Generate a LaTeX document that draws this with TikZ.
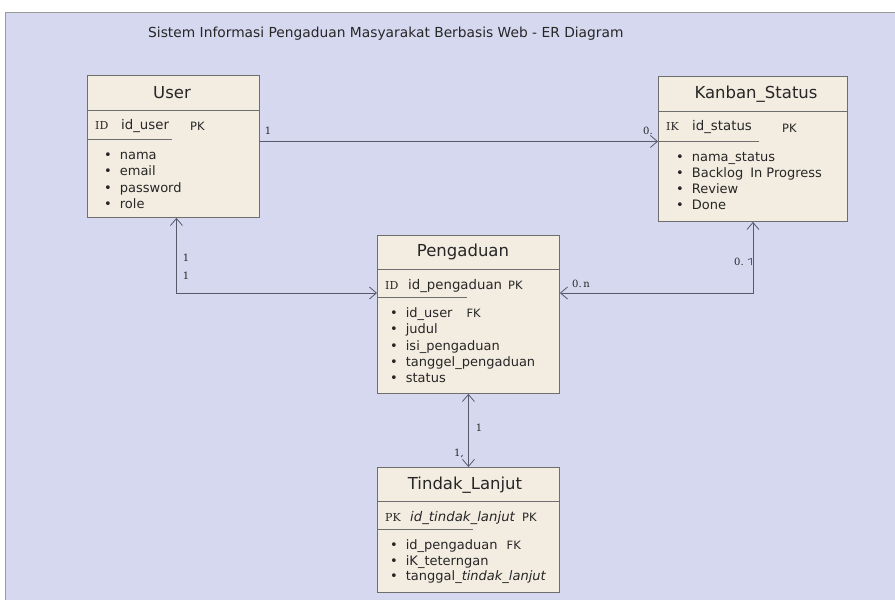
\documentclass[tikz,border=0pt]{standalone}
\usepackage{fontspec}
\setmainfont{DejaVu Sans}
\newfontfamily\tagfont{DejaVu Serif}
\usetikzlibrary{positioning, arrows.meta, calc}

\definecolor{canvasbg}{HTML}{D6D8F0}
\definecolor{entityfill}{HTML}{F3EDE1}
\definecolor{entityline}{HTML}{6E6E6E}
\definecolor{relline}{HTML}{55596A}
\definecolor{textcol}{HTML}{262626}

\begin{document}
\begin{tikzpicture}[
    x=1pt, y=-1pt,
    >={Straight Barb[length=7pt,width=12pt]},
    entity/.style={rectangle, draw=entityline, fill=entityfill, line width=0.9pt, anchor=north west, inner sep=0pt},
    etitle/.style={font=\fontsize{16.5}{19}\selectfont, text=textcol},
    keyname/.style={anchor=base west, inner sep=0pt, font=\fontsize{13.3}{16}\selectfont, text=textcol},
    keytag/.style={anchor=base west, inner sep=0pt, font=\tagfont\fontsize{11}{13}\selectfont, text=textcol},
    pk/.style={anchor=base west, inner sep=0pt, font=\fontsize{11.5}{14}\selectfont, text=textcol},
    item/.style={anchor=base west, inner sep=0pt, font=\fontsize{13}{16}\selectfont, text=textcol},
    sep/.style={draw=entityline, line width=0.9pt},
    rel/.style={draw=relline, line width=0.8pt},
    card/.style={inner sep=0pt, font=\tagfont\fontsize{10}{12}\selectfont, text=textcol}
]
\useasboundingbox (0,0) rectangle (895,600);
\fill[canvasbg] (5,12) rectangle (895,600);
\draw[entityline!70, line width=0.8pt] (5,600) -- (5,12) -- (895,12);

\node[anchor=west, inner sep=0pt, font=\fontsize{13.8}{16}\selectfont, text=textcol] (title) at (148,34)
  {Sistem Informasi Pengaduan Masyarakat Berbasis Web - ER Diagram};

% entities
\node[entity, minimum width=172pt, minimum height=142pt] (user) at (87,75) {};
\node[entity, minimum width=189pt, minimum height=145pt] (kanban) at (658,76) {};
\node[entity, minimum width=182pt, minimum height=158pt] (peng) at (377,235) {};
\node[entity, minimum width=182pt, minimum height=125pt] (tindak) at (377,467) {};

% User
\node[etitle] (user title) at (172,93) {User};
\draw[sep] (87,110) -- (259,110);
\node[keytag] (user tag) at (95,129.5) {ID};
\node[keyname] (user key) at (121,129.5) {id\_user};
\node[pk] (user pk) at (190,130) {PK};
\draw[sep] (87,139) -- (172,139);
\foreach \t [count=\i] in {nama, email, password, role}
  \node[item] (user item\i) at (104,{159.5+16.3*(\i-1)}) {\textbullet\hspace{8pt}\t};

% Kanban_Status
\node[etitle] (kanban title) at (756,94) {Kanban\_Status};
\draw[sep] (658,111) -- (847,111);
\node[keytag] (kanban tag) at (666,130.5) {IK};
\node[keyname] (kanban key) at (692,130.5) {id\_status};
\node[pk] (kanban pk) at (782,132) {PK};
\draw[sep] (658,141) -- (759,141);
\foreach \t [count=\i] in {nama\_status, Backlog\hspace{7pt}In Progress, Review, Done}
  \node[item] (kanban item\i) at (676,{161.5+16.1*(\i-1)}) {\textbullet\hspace{8pt}\t};

% Pengaduan
\node[etitle] (peng title) at (463,252) {Pengaduan};
\draw[sep] (377,269) -- (559,269);
\node[keytag] (peng tag) at (385,289.5) {ID};
\node[keyname] (peng key) at (408,289.5) {id\_pengaduan};
\node[pk] (peng pk) at (508,289.5) {PK};
\draw[sep] (377,297) -- (467,297);
\foreach \t [count=\i] in {id\_user\hspace{14pt}{\fontsize{11.5}{14}\selectfont FK}, judul, isi\_pengaduan, tanggel\_pengaduan, status}
  \node[item] (peng item\i) at (390,{317.5+16.3*(\i-1)}) {\textbullet\hspace{8pt}\t};

% Tindak_Lanjut
\node[etitle] (tindak title) at (465,485) {Tindak\_Lanjut};
\draw[sep] (377,501) -- (559,501);
\node[keytag] (tindak tag) at (385,521.5) {PK};
\node[keyname, font=\itshape\fontsize{13.3}{16}\selectfont] (tindak key) at (410,521.5) {id\_tindak\_lanjut};
\node[pk] (tindak pk) at (522,521.5) {PK};
\draw[sep] (377,529) -- (473,529);
\foreach \t [count=\i] in {id\_pengaduan\hspace{9pt}{\fontsize{11.5}{14}\selectfont FK}, iK\_teterngan, tanggal\_\textit{tindak\_lanjut}}
  \node[item] (tindak item\i) at (390,{549.5+15.5*(\i-1)}) {\textbullet\hspace{8pt}\t};

% relations
\draw[rel, ->] ([yshift=5pt]user.east) -- ([yshift=5pt]user.east -| kanban.west);
\draw[rel, <->] ([xshift=3pt]user.south) |- ([yshift=-58pt]peng.north west);
\draw[rel, <->] (kanban.south) |- ([yshift=-58pt]peng.north east);
\draw[rel, <->] (peng.south) -- (tindak.north);

% cardinalities
\node[card] (c user k) at (268,131) {1};
\node[card] (c kanban u) at (648,131) {0.};
\node[card] (c user p1) at (186,258) {1};
\node[card] (c user p2) at (186,276) {1};
\node[card] (c peng k) at (581,284) {0.\,n};
\node[card] (c kanban p) at (739,262) {0.};
\draw[relline, line width=0.8pt] (748,259.5) -- (751.5,258.5) -- (751.5,265);
\node[card] (c peng t) at (479,428) {1};
\node[card] (c tindak p) at (459,453) {1,};
\end{tikzpicture}
\end{document}
